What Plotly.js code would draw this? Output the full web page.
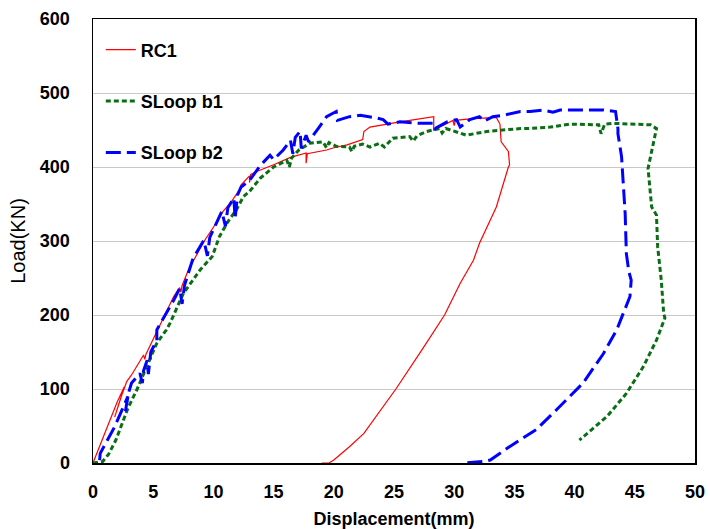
<!DOCTYPE html>
<html>
<head>
<meta charset="utf-8">
<script src="https://cdn.plot.ly/plotly-3.0.1.min.js"></script>
<style>html,body{margin:0;padding:0;background:#fff;}#chart{width:710px;height:529px;}</style>
</head>
<body>
<div id="chart"></div>
<script>
// RC1
const rc1X = [0,1.0,2.0,2.6,2.2,1.8,2.4,2.8,3.2,4.2,4.3,4.4,5.3,5.6,6.1,6.7,7.2,7.3,7.4,8.1,8.4,9.2,10.3,10.8,11.4,12.2,12.3,13.0,13.0,13.1,13.6,14.4,15.0,16.4,17.2,17.7,17.7,17.8,19.4,20.0,21.1,22.4,22.5,23.0,25.5,28.1,28.3,28.3,29.9,30.0,30.1,31.3,33.5,33.8,33.9,34.5,34.6,34.5,33.5,32.1,31.6,30.5,29.2,27.4,25.2,22.5,21.3,20.0,19.6,19.0];
const rc1Y = [0,40,82,103,82,62,92,110,119,146,140,147,178,189,206,225,237,231,240,268,275,299,326,340,351,370,376,388,379,390,394,399,403,413,417,419,405,418,423,426,430,437,448,454,461,468,468,450,463,456,463,465,467,458,434,421,403,400,346,297,274,243,200,155,101,40,22,4,0,0];

// SLoop b1
const b1X = [0,0.8,1.3,1.9,2.9,3.7,4.4,5.3,6.1,6.4,7.5,8.9,9.9,10.5,11.2,11.9,12.5,13.0,13.9,15.0,16.1,16.3,16.5,17.1,18.0,19.1,19.4,19.6,20.2,21.3,21.5,21.7,22.4,23.0,23.8,24.2,24.9,26.3,26.6,26.9,27.7,28.8,29.0,29.3,29.7,31.0,32.7,34.1,35.5,36.3,38.0,39.6,41.3,42.0,42.2,42.5,43.2,44.6,46.3,46.8,46.5,46.1,46.4,46.8,46.9,47.2,47.4,47.5,46.8,45.7,44.3,42.7,40.4];
const b1Y = [0,2,12,31,74,101,128,162,180,189,229,261,279,306,326,342,360,367,385,400,409,400,412,423,432,434,426,433,428,427,421,428,431,427,432,427,439,441,435,442,448,452,446,452,450,443,448,450,452,452,454,458,457,457,445,458,459,458,457,452,427,398,346,335,292,247,202,196,166,130,94,63,31];

// SLoop b2
const b2X = [0.55,0.6,1.8,2.9,2.7,2.9,3.2,3.9,4.1,4.2,4.5,4.6,4.8,5.3,5.3,6.1,6.7,7.2,7.4,7.6,8.3,9.2,9.5,9.7,10.7,11.0,11.2,11.7,11.8,12.0,12.3,13.0,13.9,14.7,15.0,15.8,16.4,16.6,16.8,17.2,17.3,17.7,17.9,18.7,19.4,20.2,20.3,21.3,22.2,23.6,24.1,24.5,25.5,27.2,28.3,28.4,29.4,30.2,30.5,31.3,32.1,32.5,33.2,34.1,35.5,36.3,37.4,38.2,38.8,40.2,41.3,42.4,43.4,43.5,43.6,43.6,43.9,44.2,44.3,44.5,44.7,44.6,43.5,42.4,40.7,38.5,36.8,34.4,33.0,32.4,30.8];
const b2Y = [4,13,49,90,70,92,108,121,108,125,139,120,150,166,180,202,220,236,215,240,276,301,280,305,340,320,345,358,330,362,373,382,402,416,410,423,436,418,440,448,425,443,434,452,468,475,463,468,470,466,464,458,461,459,459,452,461,464,454,464,468,462,468,470,475,475,477,474,477,477,477,477,475,466,452,445,414,337,283,259,247,225,180,148,108,72,45,20,4,2,0];

const xTickVals = [0,5,10,15,20,25,30,35,40,45,50];
const yTickVals = [0,100,200,300,400,500,600];

const traces = [
  {x: rc1X, y: rc1Y, name: 'RC1', mode: 'lines', legendgroup: 'a',
   line: {color: '#FF0000', width: 1.2}},
  {x: b1X, y: b1Y, name: 'SLoop b1', mode: 'lines', legendgroup: 'b',
   line: {color: '#0A6E14', width: 3, dash: '5px,3px'}},
  {x: b2X, y: b2Y, name: 'SLoop b2', mode: 'lines', legendgroup: 'c',
   line: {color: '#0000FF', width: 3, dash: '15px,6px'}}
];

const layout = {
  width: 710, height: 529,
  margin: {l: 93, r: 15, t: 19, b: 66},
  paper_bgcolor: '#fff', plot_bgcolor: '#fff',
  font: {family: 'Liberation Sans, Arial, sans-serif', color: '#000'},
  showlegend: true,
  legend: {x: 0.013, y: 0.972, xanchor: 'left', yanchor: 'top',
    bgcolor: 'rgba(0,0,0,0)', borderwidth: 0,
    traceorder: 'grouped', tracegroupgap: 25,
    font: {size: 18, family: 'Liberation Sans, Arial, sans-serif', weight: 'bold'}},
  xaxis: {range: [0, 50], tickvals: xTickVals, ticktext: xTickVals.map(String),
    showgrid: false, zeroline: false, showline: true, mirror: true,
    linecolor: '#000', linewidth: 1.5, ticks: '', ticklabelstandoff: 12,
    tickfont: {size: 18, weight: 'bold'},
    title: {text: 'Displacement(mm)', font: {size: 18, weight: 'bold'}, standoff: 11}},
  yaxis: {range: [0, 600], tickvals: yTickVals, ticktext: yTickVals.map(String),
    showgrid: true, gridcolor: '#C8C8C8', gridwidth: 1, zeroline: false,
    showline: true, mirror: true, linecolor: '#000', linewidth: 1.5,
    ticks: '', ticklabelstandoff: 18,
    tickfont: {size: 18, weight: 'bold'},
    title: {text: 'Load(KN)', font: {size: 20}, standoff: 9}}
};

Plotly.newPlot('chart', traces, layout, {displayModeBar: false, staticPlot: true});
</script>
</body>
</html>
